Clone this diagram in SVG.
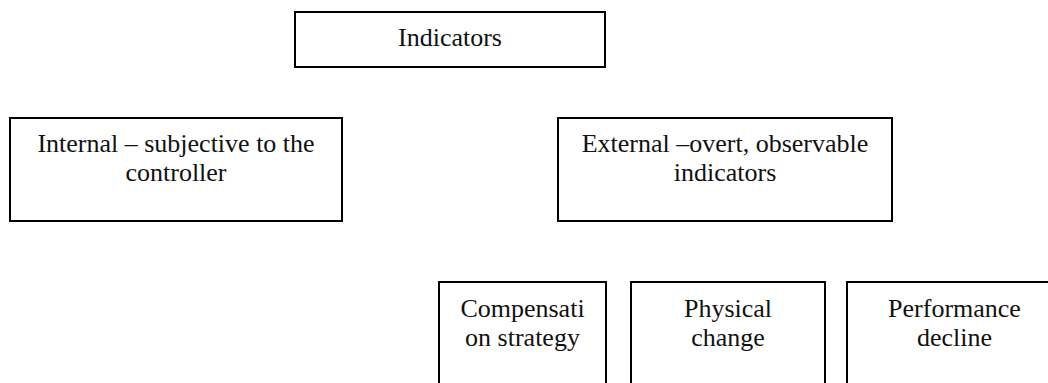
<svg xmlns="http://www.w3.org/2000/svg" width="1048" height="383" viewBox="0 0 1048 383">
<style>
rect.box { fill: #ffffff; stroke: #000000; stroke-width: 2; }
text { font-family: "Liberation Serif", "Times New Roman", serif; font-size: 26px; fill: #111111; text-anchor: middle; }
</style>
<rect x="0" y="0" width="1048" height="383" fill="#ffffff"/>
<g id="connectors"></g>
<g id="indicators">
<rect class="box" x="295" y="12" width="310" height="55"/>
<text x="450" y="46">Indicators</text>
</g>
<g id="internal">
<rect class="box" x="10" y="118" width="332" height="103"/>
<text x="176" y="152">Internal – subjective to the</text>
<text x="176" y="181">controller</text>
</g>
<g id="external">
<rect class="box" x="558" y="118" width="334" height="103"/>
<text x="725" y="152">External –overt, observable</text>
<text x="725" y="181">indicators</text>
</g>
<g id="compensation">
<rect class="box" x="439" y="282" width="167" height="120"/>
<text x="522.5" y="317">Compensati</text>
<text x="522.5" y="345.5">on strategy</text>
</g>
<g id="physical">
<rect class="box" x="631" y="282" width="194" height="120"/>
<text x="728" y="317">Physical</text>
<text x="728" y="345.5">change</text>
</g>
<g id="performance">
<rect class="box" x="847" y="282" width="300" height="120"/>
<text x="954.5" y="317">Performance</text>
<text x="954.5" y="345.5">decline</text>
</g>
</svg>
